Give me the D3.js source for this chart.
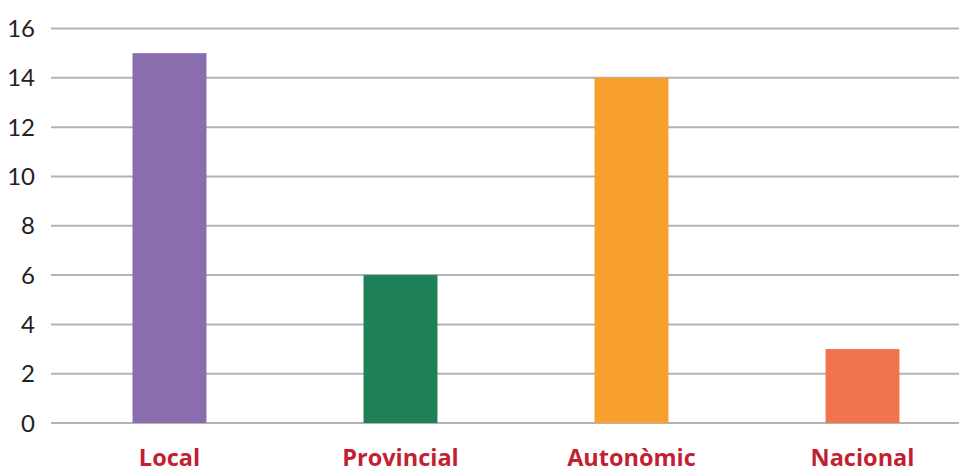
<!DOCTYPE html>
<html>
<head>
<meta charset="utf-8">
<script src="https://cdn.jsdelivr.net/npm/d3@7"></script>
<style>
  body { margin: 0; background: #fff; }
  svg { display: block; }
</style>
</head>
<body>
<div id="chart"></div>
<script>
// data
const categories = ["Local", "Provincial", "Autonòmic", "Nacional"];
const values = [15, 6, 14, 3];
const barColors = ["#8a6daf", "#1e8057", "#f7a030", "#f2744f"];
const yTicks = [0, 2, 4, 6, 8, 10, 12, 14, 16];

const width = 959, height = 471;

const svg = d3.select("#chart").append("svg")
    .attr("width", width)
    .attr("height", height);

const x = d3.scaleBand()
    .domain(categories)
    .range([54, 978])
    .paddingInner(0.68)
    .paddingOuter(0.34);

const y = d3.scaleLinear()
    .domain([0, 16])
    .range([423, 28.5]);

// grid lines
svg.append("g")
    .selectAll("line")
    .data(yTicks)
    .enter()
    .append("line")
    .attr("x1", 51)
    .attr("x2", width)
    .attr("y1", d => y(d))
    .attr("y2", d => y(d))
    .attr("stroke", "#b3b3b6")
    .attr("stroke-width", 2);

// y labels
svg.append("g")
    .selectAll("text")
    .data(yTicks)
    .enter()
    .append("text")
    .attr("x", 35)
    .attr("y", d => y(d))
    .attr("dy", "0.36em")
    .attr("text-anchor", "end")
    .style("font-family", "Lato, 'Open Sans', sans-serif")
    .style("font-size", "24px")
    .attr("fill", "#222")
    .text(d => d);

// bars
svg.append("g")
    .selectAll("rect")
    .data(values)
    .enter()
    .append("rect")
    .attr("x", (d, i) => x(categories[i]))
    .attr("width", x.bandwidth())
    .attr("y", d => y(d))
    .attr("height", d => y(0) - y(d))
    .attr("fill", (d, i) => barColors[i]);

// category labels
svg.append("g")
    .selectAll("text")
    .data(categories)
    .enter()
    .append("text")
    .attr("x", d => x(d) + x.bandwidth() / 2)
    .attr("y", 466)
    .attr("text-anchor", "middle")
    .style("font-family", "'Open Sans', sans-serif")
    .style("font-size", "23.5px")
    .style("font-weight", "bold")
    .attr("fill", "#c21f32")
    .text(d => d);
</script>
</body>
</html>
